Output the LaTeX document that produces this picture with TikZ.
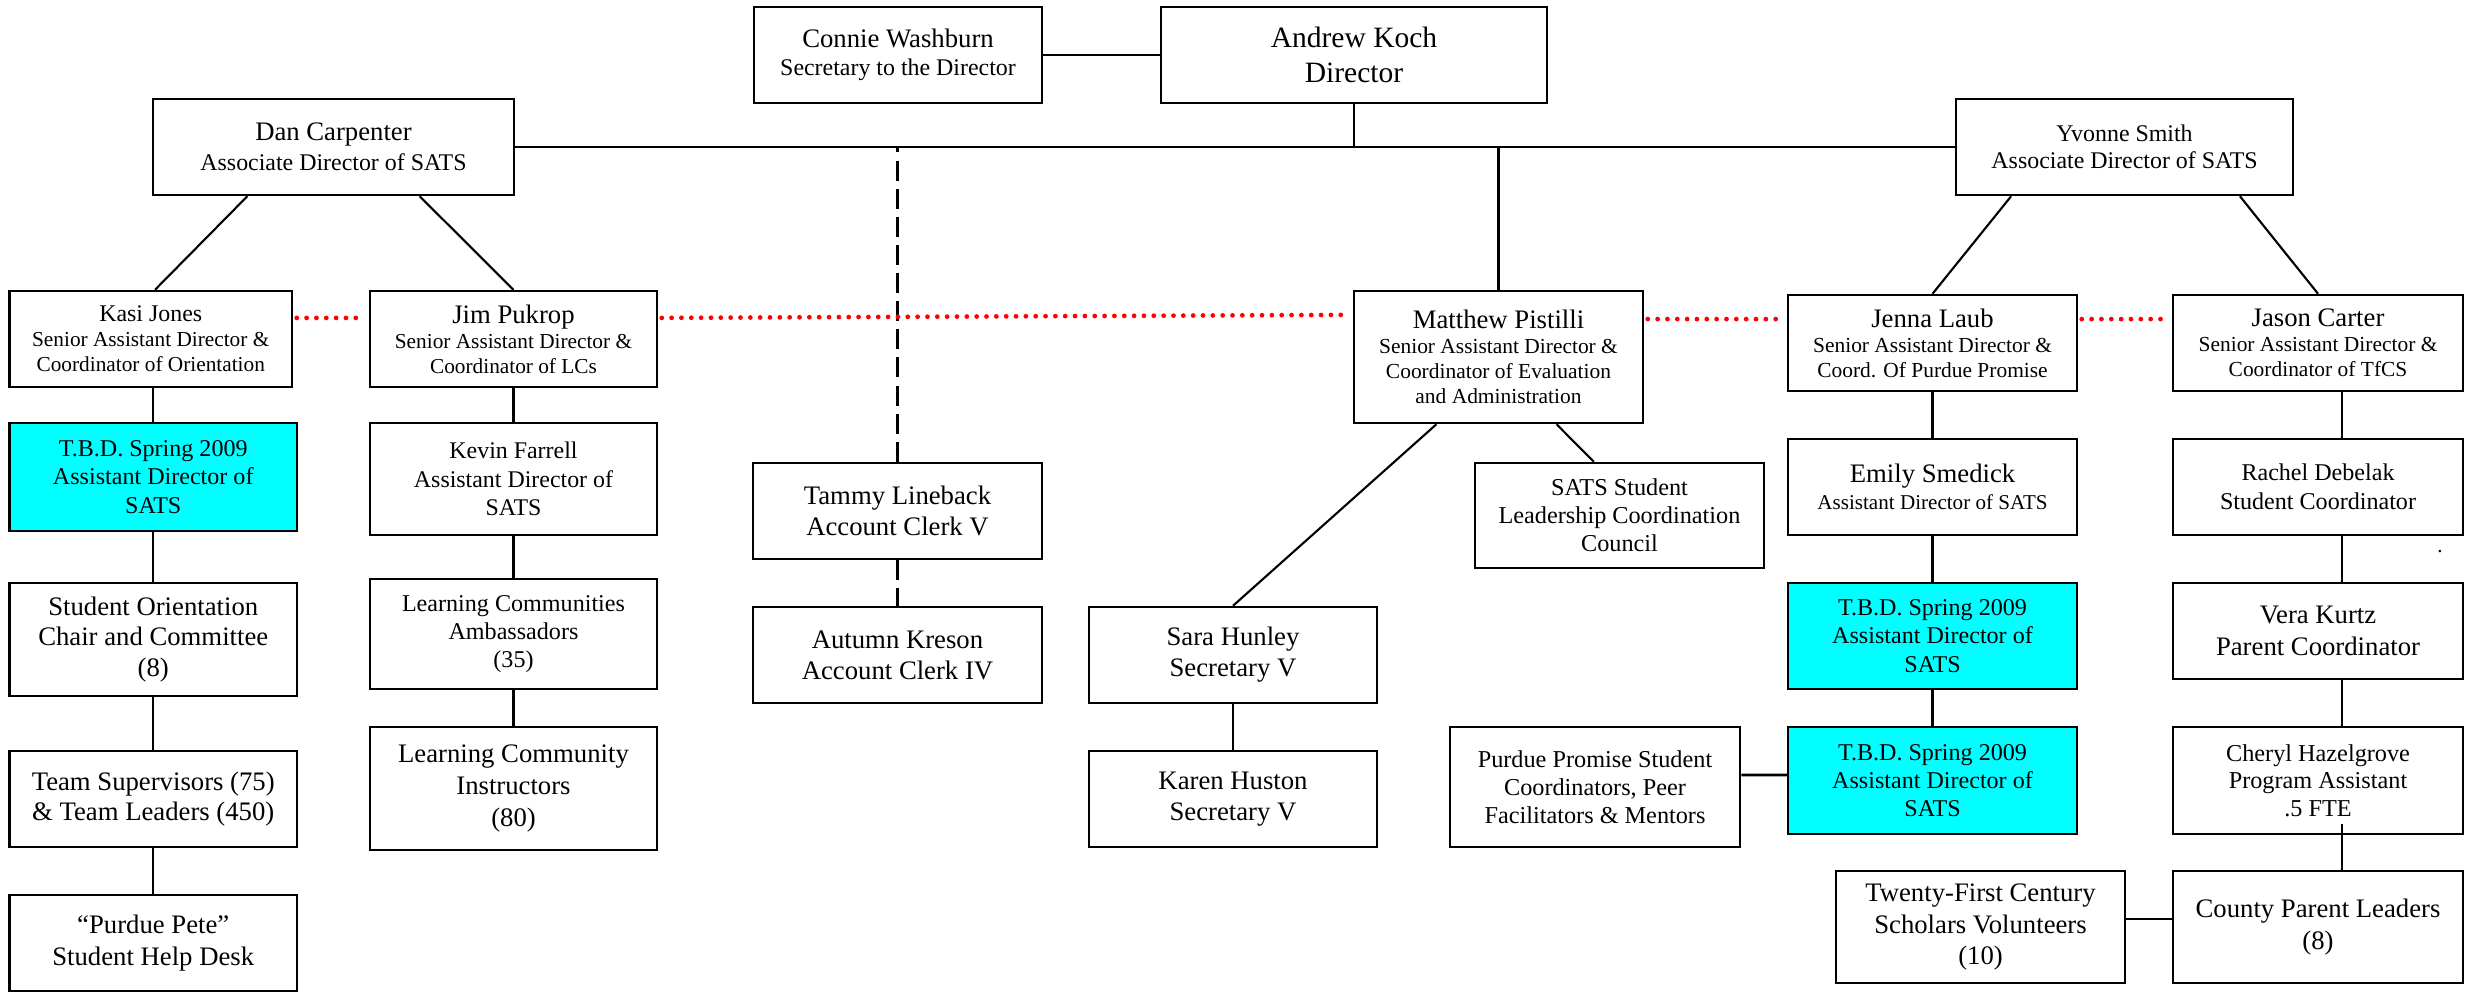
\documentclass[tikz,border=0pt]{standalone}
\usepackage{fontspec}
\setmainfont{Liberation Serif}
\usetikzlibrary{calc}
\definecolor{tbdcyan}{RGB}{0,255,255}
\newcommand\orgsz[2]{\fontsize{#1}{#2}\selectfont}
\tikzset{
  box/.style={draw, line width=0.7pt, inner sep=0pt, align=center},
  tbd/.style={box, fill=tbdcyan},
  thin/.style={line width=0.6pt},
  thickline/.style={line width=0.8pt},
  dashline/.style={line width=0.65pt, dash pattern=on 5.7pt off 2.3pt},
  reddots/.style={red, line width=1.35pt, dash pattern=on 0pt off 2.8pt, line cap=round, shorten <=1pt, shorten >=2pt}
}
\begin{document}
\begin{tikzpicture}[x=0.1mm, y=-0.1mm]
\useasboundingbox (0,0) rectangle (2475,992);

% top level
\node[box, minimum width=28.8mm, minimum height=9.6mm, font=\orgsz{6.8}{8}] (connie) at (898,55) {{\orgsz{7.6}{8}Connie Washburn}\\Secretary to the Director};
\node[box, minimum width=38.6mm, minimum height=9.6mm, font=\orgsz{8.4}{10}] (andrew) at (1354,55) {Andrew Koch\\Director};
\node[box, minimum width=36.1mm, minimum height=9.6mm, font=\orgsz{6.8}{8.5}] (dan) at (333.5,147) {{\orgsz{7.6}{8.5}Dan Carpenter}\\Associate Director of SATS};
\node[box, minimum width=33.7mm, minimum height=9.6mm, font=\orgsz{6.8}{7.7}] (yvonne) at (2124.5,147) {Yvonne Smith\\Associate Director of SATS};

% senior assistant directors
\node[box, minimum width=28.25mm, minimum height=9.6mm, font=\orgsz{6.06}{7.1}] (kasi) at (150.75,339) {{\orgsz{6.8}{7.1}Kasi Jones}\\Senior Assistant Director \&\\Coordinator of Orientation};
\node[box, minimum width=28.7mm, minimum height=9.6mm, font=\orgsz{6.06}{7.1}] (jim) at (513.5,339) {{\orgsz{7.6}{7.1}Jim Pukrop}\\Senior Assistant Director \&\\Coordinator of LCs};
\node[box, minimum width=28.9mm, minimum height=13.2mm, font=\orgsz{6.1}{7.1}] (matthew) at (1498.5,357) {{\orgsz{7.6}{7.1}Matthew Pistilli}\\Senior Assistant Director \&\\Coordinator of Evaluation\\and Administration};
\node[box, minimum width=28.9mm, minimum height=9.6mm, font=\orgsz{6.1}{7.1}] (jenna) at (1932.5,343) {{\orgsz{7.6}{7.1}Jenna Laub}\\Senior Assistant Director \&\\Coord. Of Purdue Promise};
\node[box, minimum width=29mm, minimum height=9.6mm, font=\orgsz{6.1}{7.1}] (jason) at (2318,343) {{\orgsz{7.6}{7.1}Jason Carter}\\Senior Assistant Director \&\\Coordinator of TfCS};

% left column
\node[tbd, minimum width=28.75mm, minimum height=10.8mm, font=\orgsz{6.85}{8}] (tbdA) at (153.25,477) {T.B.D. Spring 2009\\Assistant Director of\\SATS};
\node[box, minimum width=28.75mm, minimum height=11.3mm, font=\orgsz{7.6}{8.8}] (orient) at (153.25,639.5) {Student Orientation\\Chair and Committee\\(8)};
\node[box, minimum width=28.75mm, minimum height=9.6mm, font=\orgsz{7.6}{8.5}] (team) at (153.25,799) {Team Supervisors (75)\\\& Team Leaders (450)};
\node[box, minimum width=28.75mm, minimum height=9.6mm, font=\orgsz{7.6}{9}] (pete) at (153.25,943) {“Purdue Pete”\\Student Help Desk};

% second column
\node[box, minimum width=28.7mm, minimum height=11.2mm, font=\orgsz{6.8}{8.1}] (kevin) at (513.5,479) {Kevin Farrell\\Assistant Director of\\SATS};
\node[box, minimum width=28.7mm, minimum height=11mm, font=\orgsz{6.86}{7.9}] (lcamb) at (513.5,634) {Learning Communities\\Ambassadors\\(35)};
\node[box, minimum width=28.7mm, minimum height=12.3mm, font=\orgsz{7.6}{9}] (lcinst) at (513.5,788.5) {Learning Community\\Instructors\\(80)};

% clerks
\node[box, minimum width=28.9mm, minimum height=9.6mm, font=\orgsz{7.6}{8.8}] (tammy) at (897.5,511) {Tammy Lineback\\Account Clerk V};
\node[box, minimum width=28.9mm, minimum height=9.6mm, font=\orgsz{7.6}{8.8}] (autumn) at (897.5,655) {Autumn Kreson\\Account Clerk IV};

% Matthew's area
\node[box, minimum width=28.8mm, minimum height=9.6mm, font=\orgsz{7.6}{8.8}] (sara) at (1233,655) {Sara Hunley\\Secretary V};
\node[box, minimum width=28.8mm, minimum height=9.6mm, font=\orgsz{7.6}{8.8}] (karen) at (1233,799) {Karen Huston\\Secretary V};
\node[box, minimum width=28.9mm, minimum height=10.5mm, font=\orgsz{6.9}{8}] (leader) at (1619.5,515.5) {SATS Student\\Leadership Coordination\\Council};

% Jenna's column
\node[box, minimum width=28.9mm, minimum height=9.6mm, font=\orgsz{6}{7.7}] (emily) at (1932.5,487) {{\orgsz{7.6}{7.7}Emily Smedick}\\Assistant Director of SATS};
\node[tbd, minimum width=28.9mm, minimum height=10.6mm, font=\orgsz{6.85}{8}] (tbdB) at (1932.5,636) {T.B.D. Spring 2009\\Assistant Director of\\SATS};
\node[tbd, minimum width=28.9mm, minimum height=10.7mm, font=\orgsz{6.85}{8}] (tbdC) at (1932.5,780.5) {T.B.D. Spring 2009\\Assistant Director of\\SATS};
\node[box, minimum width=29mm, minimum height=12mm, font=\orgsz{6.9}{8}] (promise) at (1595,787) {Purdue Promise Student\\Coordinators, Peer\\Facilitators \& Mentors};

% Jason's column
\node[box, minimum width=29mm, minimum height=9.6mm, font=\orgsz{6.85}{8.3}] (rachel) at (2318,487) {Rachel Debelak\\Student Coordinator};
\node[box, minimum width=29mm, minimum height=9.6mm, font=\orgsz{7.6}{9}] (vera) at (2318,631) {Vera Kurtz\\Parent Coordinator};
\node[box, minimum width=29mm, minimum height=10.7mm, font=\orgsz{6.9}{7.8}] (cheryl) at (2318,780.5) {Cheryl Hazelgrove\\Program Assistant\\.5 FTE};
\node[box, minimum width=29mm, minimum height=11.2mm, font=\orgsz{7.6}{9}] (county) at (2318,927) {County Parent Leaders\\(8)};
\node[box, minimum width=28.9mm, minimum height=11.2mm, font=\orgsz{7.6}{9}] (tfc) at (1980.5,927) {Twenty-First Century\\Scholars Volunteers\\(10)};
\node[font=\orgsz{6}{7}, inner sep=0pt] (speck) at (2440,552) {.};

% connectors
\draw[thickline] (connie.east) -- (andrew.west);
\draw[thin] (dan.east) -- (yvonne.west);
\draw[thin] (andrew.south) -- (andrew.south |- dan.east);
\draw[thin] (matthew.north) -- (matthew.north |- dan.east);
\draw[dashline] (tammy.north) -- (tammy.north |- dan.east);
\draw[dashline] (tammy.south) -- (autumn.north);

\draw[thin] ($(dan.south west)!0.263!(dan.south east)$) -- ($(kasi.north west)!0.515!(kasi.north east)$);
\draw[thin] ($(dan.south west)!0.737!(dan.south east)$) -- (jim.north);
\draw[thin] ($(yvonne.south west)!0.166!(yvonne.south east)$) -- (jenna.north);
\draw[thin] ($(yvonne.south west)!0.84!(yvonne.south east)$) -- (jason.north);

\draw[thin] (kasi.south -| tbdA.north) -- (tbdA.north);
\draw[thin] (tbdA) -- (orient);
\draw[thin] (orient) -- (team);
\draw[thin] (team) -- (pete);

\draw[thin] (jim) -- (kevin);
\draw[thin] (kevin) -- (lcamb);
\draw[thin] (lcamb) -- (lcinst);

\draw[thin] ($(matthew.south west)!0.287!(matthew.south east)$) -- (sara.north);
\draw[thin] ($(matthew.south west)!0.699!(matthew.south east)$) -- ($(leader.north west)!0.412!(leader.north east)$);
\draw[thin] (sara) -- (karen);

\draw[thin] (jenna) -- (emily);
\draw[thin] (emily) -- (tbdB);
\draw[thin] (tbdB) -- (tbdC);
\draw[thickline] ([yshift=3.4pt]promise.east) -- ([yshift=1.56pt]tbdC.west);

\draw[thin] ([xshift=6.83pt]jason.south) -- ([xshift=6.83pt]rachel.north);
\draw[thin] ([xshift=6.83pt]rachel.south) -- ([xshift=6.83pt]vera.north);
\draw[thin] ([xshift=6.83pt]vera.south) -- ([xshift=6.83pt]cheryl.north);
\draw[thin] ([xshift=6.83pt,yshift=3.1pt]cheryl.south) -- ([xshift=6.83pt]county.north);
\draw[thickline] ([yshift=2.3pt]tfc.east) -- ([yshift=2.3pt]county.west);

% red dotted links
\draw[reddots] ([yshift=6pt]kasi.east) -- ([yshift=6pt]jim.west);
\draw[reddots] ([yshift=6pt]jim.east) -- ([yshift=12pt]matthew.west);
\draw[reddots] ([yshift=10.8pt]matthew.east) -- ([yshift=6.8pt]jenna.west);
\draw[reddots] ([yshift=6.8pt]jenna.east) -- ([yshift=6.8pt]jason.west);
\end{tikzpicture}
\end{document}
